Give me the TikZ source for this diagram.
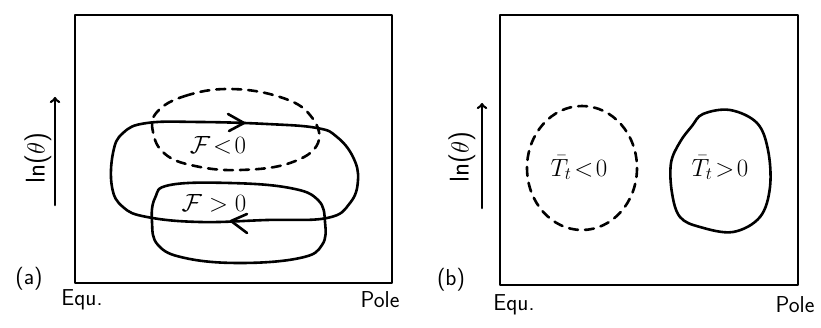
\documentclass[tikz,border=0pt]{standalone}
\usepackage{amsmath}
\begin{document}
\begin{tikzpicture}[x=1pt,y=-1pt,
  ink/.style={line width=2.6pt,line join=round,line cap=round},
  dsh/.style={ink,dash pattern=on 9pt off 7pt},
  lbl/.style={font=\fontsize{23}{27}\selectfont\sffamily,inner sep=0pt},
  axl/.style={font=\fontsize{27}{31}\selectfont\sffamily,inner sep=0pt,rotate=90},
  big/.style={font=\fontsize{27}{31}\selectfont,inner sep=0pt}]
\useasboundingbox (0,0) rectangle (821,328);
% panel (a)
\draw[ink] (75,15) rectangle (392,283);
\node[lbl] (pa) at (29,279) {(a)};
\node[lbl] (ea) at (82,300) {Equ.};
\node[lbl] (qa) at (380,300) {Pole};
\coordinate (a0) at (55,205);
\coordinate (a1) at (55,97);
\draw[ink,->] (a0) -- (a1);
\node[axl] (la) at (38,158) {ln($\theta$)};
% dashed oval
\draw[dsh] plot[smooth cycle,tension=0.7] coordinates
 {(157,112) (185,96) (230,89) (280,97) (310,115) (318,143) (290,163) (240,170) (195,166) (165,154) (153,132)};
% big loop
\draw[ink] plot[smooth cycle,tension=0.7] coordinates
 {(147,123) (200,122) (267,124) (317,128) (337,137) (353,157) (358,180) (350,203) (327,218) (267,220) (200,222) (147,217) (123,207) (112,187) (113,153) (123,133)};
% small loop
\draw[ink] plot[smooth cycle,tension=0.7] coordinates
 {(170,185) (230,183) (290,188) (318,200) (325,222) (322,245) (300,258) (240,263) (185,258) (158,245) (152,222) (155,198)};
% chevrons
\draw[ink] (228,114) -- (244,123) -- (229,131);
\draw[ink] (247,214) -- (231,221) -- (247,233);
\node[big] (fm) at (218,145) {$\mathcal{F}\!<\!0$};
\node[big] (fp) at (214,203) {$\mathcal{F}>0$};
% panel (b)
\draw[ink] (500,15) rectangle (798,285);
\node[lbl] (pb) at (451,280) {(b)};
\node[lbl] (eb) at (514,305) {Equ.};
\node[lbl] (qb) at (795,305) {Pole};
\coordinate (b0) at (482,208);
\coordinate (b1) at (482,103);
\draw[ink,->] (b0) -- (b1);
\node[axl] (lb) at (462,157) {ln($\theta$)};
\draw[dsh] (582,168) ellipse [x radius=55,y radius=62];
\draw[ink] plot[smooth cycle,tension=0.6] coordinates
 {(703,114) (730,110) (757,123) (768,150) (770,187) (760,217) (733,232) (700,227) (680,217) (672,193) (671,163) (680,142) (692,126)};
\node[big] (tm) at (579,168) {$\bar{T}_t\!<\!0$};
\node[big] (tp) at (720,168) {$\bar{T}_t\!>\!0$};
\end{tikzpicture}
\end{document}
